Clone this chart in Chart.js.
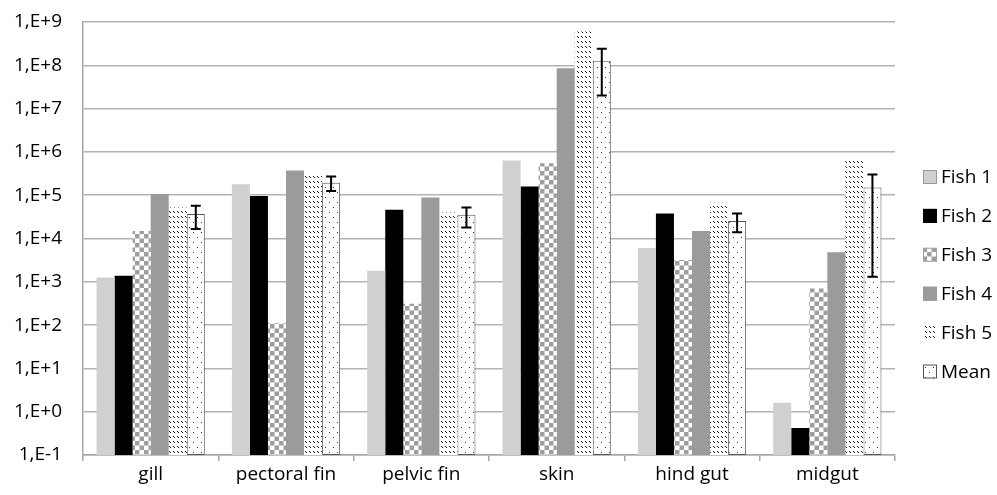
<!DOCTYPE html>
<html>
<head>
<meta charset="utf-8">
<script src="https://cdn.jsdelivr.net/npm/chart.js@4.4.1/dist/chart.umd.min.js"></script>
<style>
  html, body { margin: 0; padding: 0; background: #fff; }
  #wrap { width: 997px; height: 495px; }
</style>
</head>
<body>
<div id="wrap"><canvas id="myChart"></canvas></div>
<script>
// ------------- data -------------------------------------
const categories = ["gill", "pectoral fin", "pelvic fin", "skin", "hind gut", "midgut"];
const seriesNames = ["Fish 1", "Fish 2", "Fish 3", "Fish 4", "Fish 5", "Mean"];
const fish1 = [1260, 178000, 1800, 630000, 6000, 1.6];
const fish2 = [1380, 96000, 46000, 158000, 38000, 0.42];
const fish3 = [15000, 111, 310, 550000, 3200, 700];
const fish4 = [107000, 370000, 89000, 85000000, 15000, 4800];
const fish5 = [52000, 295000, 40000, 600000000, 67000, 710000];
const mean = [37000, 195000, 35500, 128000000, 25500, 150000];
const meanLow = [16500, 125000, 18000, 20000000, 14000, 1300];
const meanHigh = [57000, 270000, 52000, 240000000, 38000, 300000];
const yTickValues = [1e-1, 1e0, 1e1, 1e2, 1e3, 1e4, 1e5, 1e6, 1e7, 1e8, 1e9];
const yTickLabels = ["1,E-1", "1,E+0", "1,E+1", "1,E+2", "1,E+3", "1,E+4", "1,E+5", "1,E+6", "1,E+7", "1,E+8", "1,E+9"];

const FONT = "'Open Sans', sans-serif";

// small tiles for the hatched fills
function makePattern(w, h, bg, fg, dots) {
  const c = document.createElement("canvas");
  c.width = w;
  c.height = h;
  const g = c.getContext("2d");
  g.fillStyle = bg;
  g.fillRect(0, 0, w, h);
  g.fillStyle = fg;
  dots.forEach(([x, y, dw, dh]) => g.fillRect(x, y, dw || 1, dh || 1));
  return g.createPattern(c, "repeat");
}

document.addEventListener("DOMContentLoaded", () => {
  const ctx = document.getElementById("myChart");
  const checker = makePattern(9, 9, "#ffffff", "#9e9e9e", [[0, 0, 4.5, 4.5], [4.5, 4.5, 4.5, 4.5]]);
  const dashes = makePattern(4, 5, "#ffffff", "#1a1a1a", [[1, 1], [2, 2]]);
  const dots = makePattern(8, 10, "#ffffff", "#333333", [[1, 2], [5, 7]]);

  const fills = ["#d0d0d0", "#000000", checker, "#9b9b9b", dashes, dots];
  const borders = ["#d0d0d0", "#000000", "#a3a3a3", "#9b9b9b", "#ffffff", "#555555"];
  const values = [fish1, fish2, fish3, fish4, fish5, mean];

  // error bars on the Mean series
  const errorBars = {
    id: "errorBars",
    afterDatasetsDraw(chart) {
      const meta = chart.getDatasetMeta(5);
      const y = chart.scales.y;
      const c = chart.ctx;
      c.save();
      c.strokeStyle = "#000";
      c.lineWidth = 2;
      meta.data.forEach((bar, i) => {
        const yt = y.getPixelForValue(meanHigh[i]);
        const yb = y.getPixelForValue(meanLow[i]);
        const x = bar.x;
        c.beginPath();
        c.moveTo(x, yt); c.lineTo(x, yb);
        c.moveTo(x - 5, yt); c.lineTo(x + 5, yt);
        c.moveTo(x - 5, yb); c.lineTo(x + 5, yb);
        c.stroke();
      });
      c.restore();
    },
  };

  // legend on the right
  const sideLegend = {
    id: "sideLegend",
    afterDraw(chart) {
      const c = chart.ctx;
      c.save();
      c.font = "19px " + FONT;
      c.textBaseline = "middle";
      c.fillStyle = "#000";
      chart.data.datasets.forEach((ds, i) => {
        const cy = 177 + i * 38.9;
        const bx = 923;
        c.fillStyle = ds.backgroundColor;
        c.fillRect(bx, cy - 7, 14, 14);
        if (i !== 4) {
          c.strokeStyle = i === 0 ? "#999" : (i === 5 ? "#555" : ds.borderColor);
          c.lineWidth = 1;
          c.strokeRect(bx + 0.5, cy - 6.5, 13, 13);
        }
        c.fillStyle = "#000";
        c.fillText(ds.label, 941, cy + 1);
      });
      c.restore();
    },
  };

  new Chart(ctx, {
    type: "bar",
    data: {
      labels: categories,
      datasets: seriesNames.map((name, i) => ({
        label: name,
        data: values[i],
        backgroundColor: fills[i],
        borderColor: borders[i],
        borderWidth: i === 5 ? 1 : 0,
        borderSkipped: false,
        categoryPercentage: 0.8,
        barPercentage: 1.0,
      })),
    },
    options: {
      responsive: true,
      maintainAspectRatio: false,
      animation: false,
      layout: { padding: { top: 22, right: 102, left: 0, bottom: 0 } },
      plugins: {
        legend: { display: false },
        tooltip: { enabled: false },
      },
      scales: {
        x: {
          offset: true,
          grid: {
            offset: true,
            drawOnChartArea: false,
            drawTicks: true,
            tickLength: 6,
            color: "#a6a6a6",
            lineWidth: 1.5,
          },
          border: { color: "#a6a6a6", width: 1.5 },
          ticks: {
            color: "#000",
            font: { family: FONT, size: 19 },
            padding: 2,
            maxRotation: 0,
          },
          afterFit: (scale) => { scale.height = 40; },
        },
        y: {
          type: "logarithmic",
          min: 0.1,
          max: 1e9,
          grid: { color: "#b3b3b3", lineWidth: 1.5, drawTicks: false },
          border: { color: "#a6a6a6", width: 1.5 },
          afterBuildTicks: (scale) => {
            scale.ticks = yTickValues.map((v) => ({ value: v, major: true }));
          },
          ticks: {
            color: "#000",
            font: { family: FONT, size: 19 },
            padding: 21,
            autoSkip: false,
            callback: (v) => {
              const k = yTickValues.findIndex((t) => Math.abs(Math.log10(t) - Math.log10(v)) < 1e-6);
              return k >= 0 ? yTickLabels[k] : "";
            },
          },
          afterFit: (scale) => {
            scale.width = 83;
            scale.paddingTop = 0;
            scale.paddingBottom = 0;
          },
        },
      },
    },
    plugins: [errorBars, sideLegend],
  });
});
</script>
</body>
</html>
